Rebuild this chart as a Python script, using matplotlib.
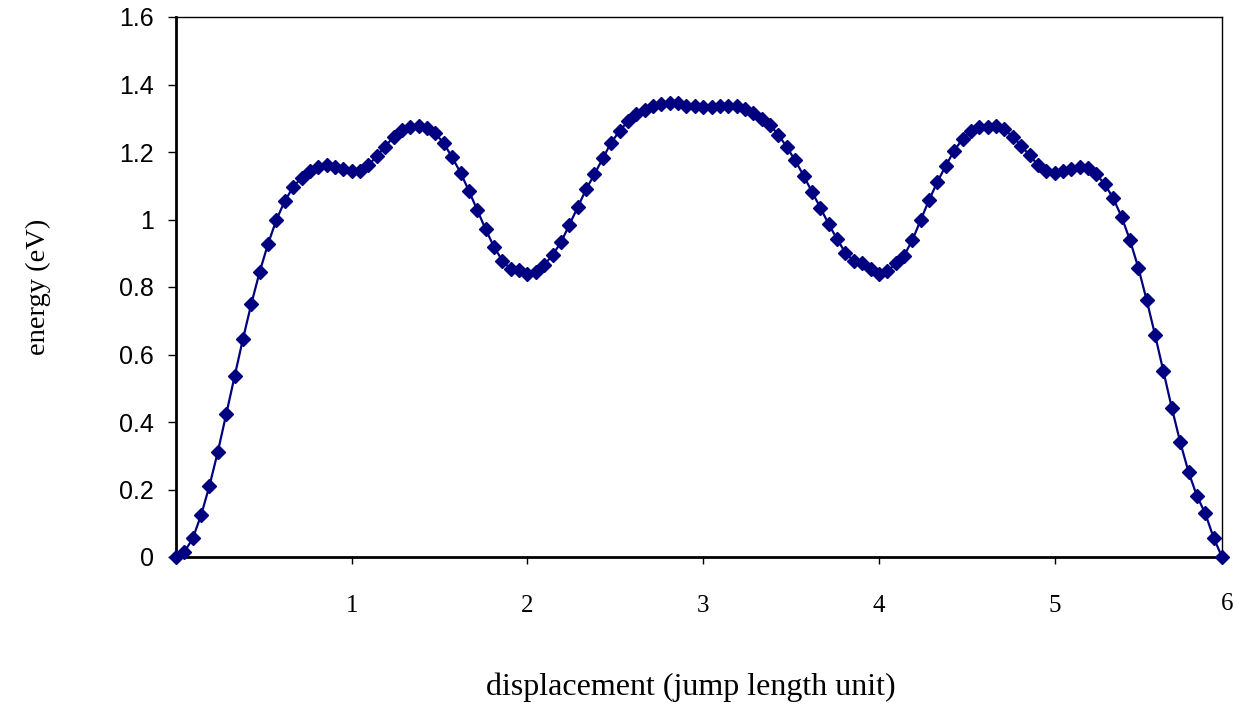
# energy profile along the jump path
import matplotlib
matplotlib.use("Agg")
import matplotlib.pyplot as plt

# ---- data ----
n_per_unit = 21  # points per jump length
energy = [
    0.000, 0.015, 0.055, 0.124, 0.211, 0.312, 0.423, 0.535, 0.646, 0.750,
    0.845, 0.928, 0.999, 1.055, 1.096, 1.124, 1.145, 1.155, 1.161, 1.157,
    1.150, 1.145, 1.144, 1.161, 1.188, 1.216, 1.245, 1.265, 1.275, 1.278,
    1.272, 1.255, 1.226, 1.184, 1.139, 1.085, 1.028, 0.971, 0.919, 0.878,
    0.853, 0.849, 0.839, 0.844, 0.865, 0.895, 0.932, 0.984, 1.036, 1.089,
    1.134, 1.181, 1.228, 1.262, 1.291, 1.313, 1.325, 1.335, 1.341, 1.344,
    1.346, 1.336, 1.335, 1.334, 1.334, 1.336, 1.337, 1.336, 1.328, 1.316,
    1.298, 1.279, 1.251, 1.214, 1.175, 1.130, 1.082, 1.035, 0.986, 0.942,
    0.901, 0.877, 0.870, 0.853, 0.840, 0.846, 0.870, 0.893, 0.939, 0.999,
    1.058, 1.112, 1.160, 1.204, 1.239, 1.263, 1.273, 1.273, 1.277, 1.267,
    1.245, 1.219, 1.190, 1.162, 1.144, 1.138, 1.143, 1.151, 1.156, 1.152,
    1.134, 1.104, 1.063, 1.008, 0.939, 0.857, 0.761, 0.658, 0.550, 0.442,
    0.341, 0.252, 0.181, 0.129, 0.057, 0.000,
]
displacement = [i / n_per_unit for i in range(len(energy))]

x_ticks = [1, 2, 3, 4, 5, 6]
y_ticks = [0, 0.2, 0.4, 0.6, 0.8, 1.0, 1.2, 1.4, 1.6]
y_tick_labels = ["0", "0.2", "0.4", "0.6", "0.8", "1", "1.2", "1.4", "1.6"]

# ---- figure ----
fig = plt.figure(figsize=(12.4, 7.05), dpi=100)
ax = fig.add_axes([176 / 1240, 148 / 705, 1046 / 1240, 540 / 705])

ax.plot(displacement, energy, color="#000080", lw=1.6,
        marker="D", markersize=7.5, markerfacecolor="#000080",
        markeredgecolor="#000080", clip_on=False, zorder=3)

ax.set_xlim(0, displacement[-1])
ax.set_ylim(0, 1.6)

ax.set_yticks(y_ticks)
ax.set_yticklabels(y_tick_labels, fontfamily="Liberation Sans", fontsize=18)
ax.tick_params(axis="y", direction="out", length=6, width=1, pad=10)

# x ticks: marks on the axis, serif labels well below
last_x = displacement[-1]
shown = [t for t in x_ticks if t <= last_x]
ax.set_xticks(shown)
ax.set_xticklabels([str(t) for t in shown], fontfamily="Liberation Serif", fontsize=18)
ax.tick_params(axis="x", direction="out", length=5, width=1, pad=22)
# the last label sits past the end of the axis (as in the original)
lab_y = ((705 - 604) - 148) / 540
for t in x_ticks:
    if t > last_x:
        ax.text(t - 0.02, lab_y, str(t), ha="center", va="center",
                fontfamily="Liberation Serif", fontsize=18,
                transform=ax.get_xaxis_transform(), clip_on=False)

for side in ("left", "bottom"):
    ax.spines[side].set_linewidth(2)
for side in ("top", "right"):
    ax.spines[side].set_linewidth(1)

fig.text(38 / 1240, 1 - 287 / 705, "energy (eV)", rotation=90,
         ha="center", va="center", fontfamily="Liberation Serif", fontsize=20.5)
fig.text(691 / 1240, 1 - 687 / 705, "displacement (jump length unit)",
         ha="center", va="center", fontfamily="Liberation Serif", fontsize=23)

fig.savefig("out.png", dpi=100)
plt.close(fig)
